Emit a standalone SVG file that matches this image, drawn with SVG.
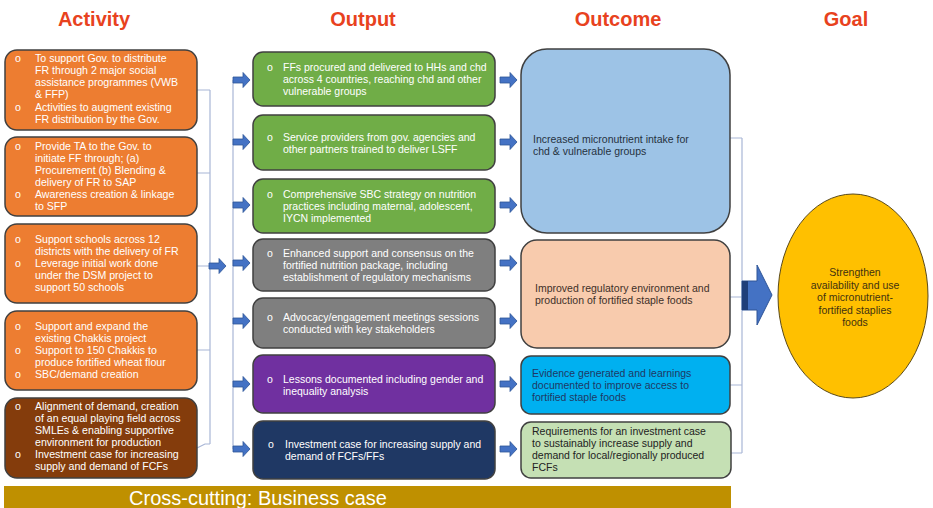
<svg xmlns="http://www.w3.org/2000/svg" xmlns:xlink="http://www.w3.org/1999/xlink" width="933" height="508" viewBox="0 0 933 508">
  <style>
    .hdr { font-family: "Liberation Sans", Arial, sans-serif; font-size: 20px; font-weight: bold; fill: #e8421e; text-anchor: middle; }
    .box { stroke: #404040; stroke-width: 1.5; }
    .t { font-family: "Liberation Sans", Arial, sans-serif; font-size: 10.5px; fill: #ffffff; }
    .act .t { font-size: 10.6px; }
    .d { font-family: "Liberation Sans", Arial, sans-serif; font-size: 10.5px; }
    .link { fill: none; stroke: #a8b6d6; stroke-width: 1.2; }
    .orange { fill: #ed7d31; }
    .brown { fill: #843c0c; }
    .green { fill: #70ad47; }
    .grey { fill: #7f7f7f; }
    .purple { fill: #7030a0; }
    .navy { fill: #1f3864; }
  </style>
  <defs>
    <path id="sa" d="M0,-3 H10 V-7.5 L17,0 L10,7.5 V3 H0 Z" fill="#4472c4" stroke="#2f5597" stroke-width="0.8"/>
  </defs>

  <rect width="933" height="508" fill="#ffffff"/>

  <!-- column headings -->
  <g id="headings">
    <text class="hdr" x="94" y="26">Activity</text>
    <text class="hdr" x="363" y="26">Output</text>
    <text class="hdr" x="618" y="26">Outcome</text>
    <text class="hdr" x="846" y="26">Goal</text>
  </g>

  <!-- connectors -->
  <g id="connectors">
    <!-- activity bracket -->
    <path class="link" d="M197,90 H210 M197,173 H210 M197,266 H210 M197,350 H210 M197,448 L205,444 H210 M210,90 V444"/>
    <use href="#sa" x="209" y="266"/>
    <!-- output bus -->
    <path class="link" d="M233,80 V449"/>
    <use href="#sa" x="233" y="80"/>
    <use href="#sa" x="233" y="142"/>
    <use href="#sa" x="233" y="205"/>
    <use href="#sa" x="233" y="263"/>
    <use href="#sa" x="233" y="321"/>
    <use href="#sa" x="233" y="384"/>
    <use href="#sa" x="233" y="449"/>
    <!-- output to outcome -->
    <use href="#sa" x="500" y="80"/>
    <use href="#sa" x="500" y="142"/>
    <use href="#sa" x="500" y="205"/>
    <use href="#sa" x="500" y="263"/>
    <use href="#sa" x="500" y="321"/>
    <use href="#sa" x="500" y="384"/>
    <use href="#sa" x="500" y="449"/>
    <!-- outcome bracket -->
    <path class="link" d="M730,138 H742 M730,297 H742 M730,385 H742 M731,453 H742 M742,138 V453"/>
    <!-- big arrow to goal -->
    <path d="M742,281 H757 V265 L772,295 L757,325 V310 H742 Z" fill="#4472c4" stroke="#2f5597" stroke-width="1"/>
    <rect x="742" y="281" width="6" height="29" fill="#1f3f7a"/>
  </g>

  <!-- activities -->
  <g class="act">
  <g id="activity-1">
    <rect class="box orange" x="5" y="50" width="192" height="80" rx="12"/>
    <text class="t" x="15" y="62">o</text>
    <text class="t" x="35" y="62">To support Gov. to distribute</text>
    <text class="t" x="35" y="74">FR through 2 major social</text>
    <text class="t" x="35" y="86">assistance programmes (VWB</text>
    <text class="t" x="35" y="98">&amp; FFP)</text>
    <text class="t" x="15" y="111">o</text>
    <text class="t" x="35" y="111">Activities to augment existing</text>
    <text class="t" x="35" y="123">FR distribution by the Gov.</text>
  </g>
  <g id="activity-2">
    <rect class="box orange" x="5" y="137" width="192" height="79" rx="12"/>
    <text class="t" x="15" y="150">o</text>
    <text class="t" x="35" y="150">Provide TA to the Gov. to</text>
    <text class="t" x="35" y="162">initiate FF through; (a)</text>
    <text class="t" x="35" y="174">Procurement (b) Blending &amp;</text>
    <text class="t" x="35" y="186">delivery of FR to SAP</text>
    <text class="t" x="15" y="198">o</text>
    <text class="t" x="35" y="198">Awareness creation &amp; linkage</text>
    <text class="t" x="35" y="210">to SFP</text>
  </g>
  <g id="activity-3">
    <rect class="box orange" x="5" y="224" width="192" height="79" rx="12"/>
    <text class="t" x="15" y="243">o</text>
    <text class="t" x="35" y="243">Support schools across 12</text>
    <text class="t" x="35" y="255">districts with the delivery of FR</text>
    <text class="t" x="15" y="267">o</text>
    <text class="t" x="35" y="267">Leverage initial work done</text>
    <text class="t" x="35" y="279">under the DSM project  to</text>
    <text class="t" x="35" y="291">support 50 schools</text>
  </g>
  <g id="activity-4">
    <rect class="box orange" x="5" y="311" width="192" height="79" rx="12"/>
    <text class="t" x="15" y="330">o</text>
    <text class="t" x="35" y="330">Support and expand the</text>
    <text class="t" x="35" y="342">existing Chakkis project</text>
    <text class="t" x="15" y="354">o</text>
    <text class="t" x="35" y="354">Support to 150 Chakkis to</text>
    <text class="t" x="35" y="366">produce fortified wheat flour</text>
    <text class="t" x="15" y="378">o</text>
    <text class="t" x="35" y="378">SBC/demand creation</text>
  </g>
  <g id="activity-5">
    <rect class="box brown" x="5" y="398" width="192" height="80" rx="12"/>
    <text class="t" x="15" y="410">o</text>
    <text class="t" x="35" y="410">Alignment of demand, creation</text>
    <text class="t" x="35" y="422">of an equal playing field across</text>
    <text class="t" x="35" y="434">SMLEs &amp; enabling supportive</text>
    <text class="t" x="35" y="446">environment for production</text>
    <text class="t" x="15" y="458">o</text>
    <text class="t" x="35" y="458">Investment case for increasing</text>
    <text class="t" x="35" y="470">supply and demand of FCFs</text>
  </g>
  </g>

  <!-- outputs -->
  <g id="output-1">
    <rect class="box green" x="253" y="52" width="242" height="54" rx="10"/>
    <text class="t" x="267" y="71">o</text>
    <text class="t" x="283" y="71">FFs procured and delivered to HHs and chd</text>
    <text class="t" x="283" y="83">across 4 countries, reaching chd and other</text>
    <text class="t" x="283" y="95">vulnerable groups</text>
  </g>
  <g id="output-2">
    <rect class="box green" x="253" y="115" width="242" height="55" rx="10"/>
    <text class="t" x="267" y="141">o</text>
    <text class="t" x="283" y="141">Service providers from gov. agencies and</text>
    <text class="t" x="283" y="153">other partners trained to deliver LSFF</text>
  </g>
  <g id="output-3">
    <rect class="box green" x="253" y="179" width="242" height="54" rx="10"/>
    <text class="t" x="267" y="198">o</text>
    <text class="t" x="283" y="198">Comprehensive SBC strategy on nutrition</text>
    <text class="t" x="283" y="210">practices including maternal, adolescent,</text>
    <text class="t" x="283" y="222">IYCN implemented</text>
  </g>
  <g id="output-4">
    <rect class="box grey" x="253" y="239" width="242" height="52" rx="10"/>
    <text class="t" x="267" y="257">o</text>
    <text class="t" x="283" y="257">Enhanced support and consensus on the</text>
    <text class="t" x="283" y="269">fortified nutrition package, including</text>
    <text class="t" x="283" y="281">establishment of regulatory mechanisms</text>
  </g>
  <g id="output-5">
    <rect class="box grey" x="253" y="298" width="242" height="50" rx="10"/>
    <text class="t" x="267" y="321">o</text>
    <text class="t" x="283" y="321">Advocacy/engagement meetings sessions</text>
    <text class="t" x="283" y="333">conducted with key stakeholders</text>
  </g>
  <g id="output-6">
    <rect class="box purple" x="253" y="355" width="242" height="58" rx="10"/>
    <text class="t" x="267" y="383">o</text>
    <text class="t" x="283" y="383">Lessons documented including gender and</text>
    <text class="t" x="283" y="395">inequality analysis</text>
  </g>
  <g id="output-7">
    <rect class="box navy" x="253" y="421" width="242" height="58" rx="10"/>
    <text class="t" x="268" y="448">o</text>
    <text class="t" x="285" y="448">Investment case for increasing supply and</text>
    <text class="t" x="285" y="460">demand of FCFs/FFs</text>
  </g>

  <!-- outcomes -->
  <g id="outcome-1">
    <rect class="box" x="521" y="49" width="209" height="184" rx="26" fill="#9dc3e6"/>
    <text class="d" x="533" y="143" fill="#26323f" font-size="11.5">Increased micronutrient intake for</text>
    <text class="d" x="533" y="155" fill="#26323f" font-size="11.5">chd &amp; vulnerable groups</text>
  </g>
  <g id="outcome-2">
    <rect class="box" x="521" y="240" width="209" height="108" rx="16" fill="#f8cbad"/>
    <text class="d" x="535" y="292" fill="#3e3028" font-size="10.8">Improved regulatory environment and</text>
    <text class="d" x="535" y="304" fill="#3e3028" font-size="10.8">production of fortified staple foods</text>
  </g>
  <g id="outcome-3">
    <rect class="box" x="521" y="356" width="209" height="58" rx="10" fill="#00b0f0"/>
    <text class="d" x="532" y="377" fill="#1f3864">Evidence generated and learnings</text>
    <text class="d" x="532" y="389" fill="#1f3864">documented to improve access to</text>
    <text class="d" x="532" y="401" fill="#1f3864">fortified staple foods</text>
  </g>
  <g id="outcome-4">
    <rect class="box" x="521" y="422" width="210" height="56" rx="10" fill="#c5e0b4"/>
    <text class="d" x="532" y="435" fill="#222222">Requirements for an investment case</text>
    <text class="d" x="532" y="447" fill="#222222">to sustainably increase supply and</text>
    <text class="d" x="532" y="459" fill="#222222">demand for local/regionally produced</text>
    <text class="d" x="532" y="471" fill="#222222">FCFs</text>
  </g>

  <!-- goal -->
  <g id="goal">
    <ellipse cx="853" cy="296" rx="75" ry="102" fill="#ffc000" stroke="#5a4a1a" stroke-width="1"/>
    <g class="d" fill="#3f3210" text-anchor="middle" font-size="10">
      <text x="855" y="276">Strengthen</text>
      <text x="855" y="289">availability and use</text>
      <text x="855" y="301">of micronutrient-</text>
      <text x="855" y="314">fortified staplies</text>
      <text x="855" y="326">foods</text>
    </g>
  </g>

  <!-- cross-cutting band -->
  <g id="cross-cutting">
    <rect x="4" y="486" width="727" height="22" fill="#bf9000"/>
    <text x="258" y="505" font-family="'Liberation Sans', Arial, sans-serif" font-size="20" fill="#ffffff" text-anchor="middle">Cross-cutting: Business case</text>
  </g>
</svg>
